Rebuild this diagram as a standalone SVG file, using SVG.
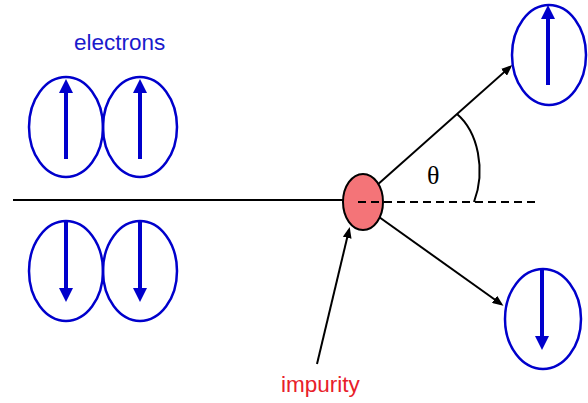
<svg xmlns="http://www.w3.org/2000/svg" width="588" height="403" viewBox="0 0 588 403">
<defs>
<marker id="bh" markerUnits="userSpaceOnUse" markerWidth="14" markerHeight="16" viewBox="0 0 14 16" refX="10" refY="7" orient="auto">
<path d="M0,0 L14,7 L0,14 Z" fill="#0000CC"/>
</marker>
<marker id="kh" markerUnits="userSpaceOnUse" markerWidth="11" markerHeight="9" viewBox="0 0 11 9" refX="8" refY="4.5" orient="auto">
<path d="M0,0 L11,4.5 L0,9 Z" fill="#000"/>
</marker>
<style>
.el{fill:none;stroke:#0000CC;stroke-width:2.5}
.sp{stroke:#0000CC;stroke-width:4;marker-end:url(#bh)}
.ln{stroke:#000;stroke-width:2;fill:none}
.lbl{font-family:"Liberation Sans",Arial,sans-serif;font-size:22.5px}
</style>
</defs>
<rect width="588" height="403" fill="#fff"/>
<g id="connectors">
<line class="ln" x1="13" y1="200" x2="345" y2="200"/>
<line class="ln" x1="358" y1="202" x2="510" y2="67" marker-end="url(#kh)"/>
<line class="ln" x1="358" y1="202" x2="501" y2="304" marker-end="url(#kh)"/>
<line class="ln" x1="317" y1="364" x2="349" y2="230" marker-end="url(#kh)"/>
<path class="ln" d="M457,114 C478,132 486,170 474,202"/>
</g>
<g id="impurity">
<ellipse cx="363" cy="202" rx="20" ry="28" fill="#F47478" stroke="#000" stroke-width="2"/>
<line x1="358" y1="202" x2="537" y2="202" stroke="#000" stroke-width="2" stroke-dasharray="8,5"/>
<text class="lbl" x="281" y="392" fill="#E8202A">impurity</text>
</g>
<g id="electrons-label">
<text class="lbl" x="74" y="50" fill="#1a1acc">electrons</text>
</g>
<text x="427" y="184" font-family="Liberation Serif,serif" font-size="26">θ</text>
<g id="e1"><ellipse class="el" cx="66" cy="127" rx="37" ry="50"/><line class="sp" x1="66" y1="159" x2="66" y2="83"/></g>
<g id="e2"><ellipse class="el" cx="140" cy="127" rx="37" ry="50"/><line class="sp" x1="140" y1="159" x2="140" y2="83"/></g>
<g id="e3"><ellipse class="el" cx="66" cy="271" rx="37" ry="50"/><line class="sp" x1="66" y1="221" x2="66" y2="298"/></g>
<g id="e4"><ellipse class="el" cx="140" cy="271" rx="37" ry="50"/><line class="sp" x1="140" y1="221" x2="140" y2="298"/></g>
<g id="e5"><ellipse class="el" cx="549" cy="55" rx="37" ry="50"/><line class="sp" x1="548" y1="85" x2="548" y2="9"/></g>
<g id="e6"><ellipse class="el" cx="543" cy="319" rx="38" ry="50"/><line class="sp" x1="542" y1="269" x2="542" y2="346"/></g>
</svg>
